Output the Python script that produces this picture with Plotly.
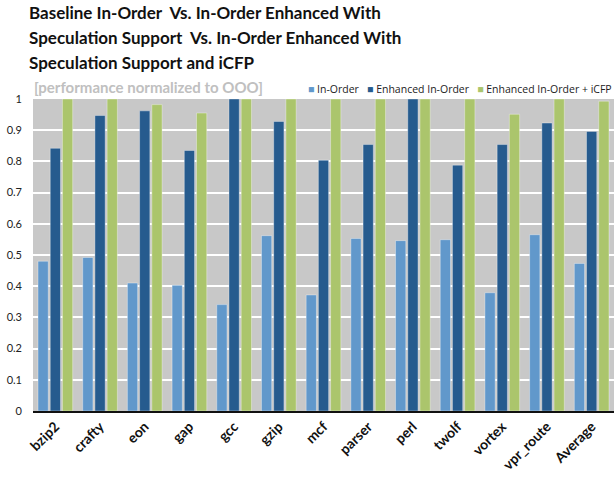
import plotly.graph_objects as go

categories = ["bzip2", "crafty", "eon", "gap", "gcc", "gzip", "mcf",
              "parser", "perl", "twolf", "vortex", "vpr_route", "Average"]
in_order = [0.480, 0.492, 0.410, 0.403, 0.341, 0.562, 0.372,
            0.553, 0.546, 0.549, 0.379, 0.565, 0.473]
enhanced = [0.842, 0.947, 0.962, 0.835, 1.000, 0.928, 0.804,
            0.854, 1.000, 0.788, 0.854, 0.923, 0.896]
enhanced_icfp = [1.000, 1.000, 0.982, 0.955, 1.000, 1.000, 1.000,
                 1.000, 1.000, 1.000, 0.951, 1.000, 0.993]
y_ticks = [0, 0.1, 0.2, 0.3, 0.4, 0.5, 0.6, 0.7, 0.8, 0.9, 1]
y_tick_text = ["0", "0.1", "0.2", "0.3", "0.4", "0.5", "0.6", "0.7", "0.8", "0.9", "1"]

title_lines = [
    "Baseline In-Order  Vs. In-Order Enhanced With",
    "Speculation Support  Vs. In-Order Enhanced With",
    "Speculation Support and iCFP",
]
subtitle = "[performance normalized to OOO]"

series = [
    ("In-Order", in_order, "#6198cb"),
    ("Enhanced In-Order", enhanced, "#265b8e"),
    ("Enhanced In-Order + iCFP", enhanced_icfp, "#abc56c"),
]

fig = go.Figure()
for name, vals, color in series:
    fig.add_trace(go.Bar(
        x=categories, y=vals, name=name, showlegend=False,
        marker=dict(color=color, line=dict(color="rgba(255,255,255,0.35)", width=1)),
    ))

annotations = []
for i, line in enumerate(title_lines):
    annotations.append(dict(
        text="<b>%s</b>" % line, xref="paper", yref="paper",
        x=0, y=1, xanchor="left", yanchor="bottom", xshift=-6,
        yshift=74 - i * 25, showarrow=False,
        font=dict(family="Lato", size=17, color="#111111"),
    ))
annotations.append(dict(
    text="<b>%s</b>" % subtitle, xref="paper", yref="paper",
    x=0, y=1, xanchor="left", yanchor="bottom", xshift=-1, yshift=1,
    showarrow=False, font=dict(family="Lato", size=15, color="#c0c0c0"),
))

# compact legend row: colored square followed by the series name
legend_text = "&nbsp;&nbsp;&nbsp;".join(
    '<span style="color:%s">■</span>&nbsp;%s' % (color, name) for name, _, color in series
)
annotations.append(dict(
    text=legend_text, xref="paper", yref="paper",
    x=1, y=1, xanchor="right", yanchor="bottom", yshift=1,
    showarrow=False, font=dict(family="Open Sans", size=10.5, color="#222222"),
))

fig.update_layout(
    width=614, height=483,
    margin=dict(l=33, r=0, t=99, b=72),
    paper_bgcolor="white", plot_bgcolor="#c8c8c8",
    barmode="group", bargap=0.18, bargroupgap=0.16,
    font=dict(family="Lato", color="#222222"),
    annotations=annotations,
    xaxis=dict(
        tickangle=-45, tickfont=dict(size=14, color="#111111", family="Lato"),
        showline=True, linecolor="#111111", linewidth=2, ticks="",
        tickprefix="<b>", ticksuffix="</b>",
    ),
    yaxis=dict(
        range=[0, 1], tickvals=y_ticks, ticktext=y_tick_text,
        showgrid=True, gridcolor="white", gridwidth=2, zeroline=False,
        tickfont=dict(size=11, color="#222222"), ticks="", ticklabelstandoff=10,
    ),
)

fig.write_html("out.html")
